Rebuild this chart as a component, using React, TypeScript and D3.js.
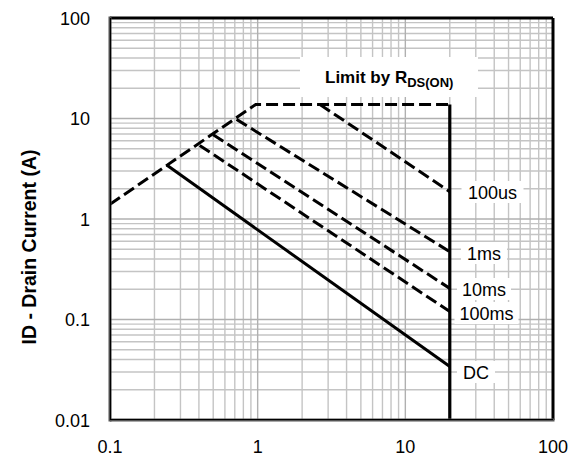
import React from "react";
import * as d3 from "d3";

// ---- data ----
const xTicks = [0.1, 1, 10, 100];
const xTickLabels = ["0.1", "1", "10", "100"];
const yTicks = [0.01, 0.1, 1, 10, 100];
const yTickLabels = ["0.01", "0.1", "1", "10", "100"];

const envelopeX = [0.1, 0.97, 20];
const envelopeY = [1.4, 13.8, 13.8];

const seriesNames = ["100us", "1ms", "10ms", "100ms", "DC"];
const seriesX = [
  [2.64, 20],
  [0.72, 20],
  [0.5, 20],
  [0.405, 20],
  [0.242, 20],
];
const seriesY = [
  [13.8, 1.87],
  [9.8, 0.473],
  [6.9, 0.204],
  [5.4, 0.12],
  [3.44, 0.034],
];
const seriesDashed = [true, true, true, true, false];

const limitX = [20, 20];
const limitY = [13.8, 0.01];

const yTitle = "ID - Drain Current (A)";

// ---- layout ----
const W = 571;
const H = 457;
const L = 110;
const R = 553;
const T = 18;
const B = 420;
const FONT = "Liberation Sans, Arial, sans-serif";
const DASH = "12,5";

export default function App() {
  const x = d3.scaleLog().domain([0.1, 100]).range([L, R]);
  const y = d3.scaleLog().domain([0.01, 100]).range([B, T]);

  const gridX: number[] = [];
  const gridY: number[] = [];
  for (let e = -1; e < 2; e++) {
    for (let m = 2; m <= 9; m++) gridX.push(m * Math.pow(10, e));
  }
  for (let e = -2; e < 2; e++) {
    for (let m = 2; m <= 9; m++) gridY.push(m * Math.pow(10, e));
  }

  const line = d3
    .line<[number, number]>()
    .x((d) => x(d[0]))
    .y((d) => y(d[1]));

  const pts = (xs: number[], ys: number[]) =>
    xs.map((v, i) => [v, ys[i]] as [number, number]);

  const labelPos = [
    { cx: 492.5, cy: 192, w: 62 },
    { cx: 484, cy: 253, w: 46 },
    { cx: 484, cy: 289, w: 54 },
    { cx: 486.5, cy: 313, w: 64 },
    { cx: 476, cy: 372, w: 38 },
  ];

  return (
    <svg
      width={W}
      height={H}
      style={{ position: "absolute", left: 0, top: 0, background: "#fff" }}
    >
      <rect x={0} y={0} width={W} height={H} fill="#fff" />
      {/* grid */}
      <g stroke="#c4c4c4" strokeWidth={1.4}>
        {gridX.map((v, i) => (
          <line key={"gx" + i} x1={x(v)} x2={x(v)} y1={T} y2={B} />
        ))}
        {gridY.map((v, i) => (
          <line key={"gy" + i} x1={L} x2={R} y1={y(v)} y2={y(v)} />
        ))}
        {xTicks.map((v, i) => (
          <line key={"mx" + i} x1={x(v)} x2={x(v)} y1={T} y2={B} stroke="#b0b0b0" />
        ))}
        {yTicks.map((v, i) => (
          <line key={"my" + i} x1={L} x2={R} y1={y(v)} y2={y(v)} stroke="#b0b0b0" />
        ))}
      </g>

      {/* Limit box */}
      <rect x={300} y={57} width={178} height={40} fill="#fff" />
      <text
        x={325}
        y={83}
        fontFamily={FONT}
        fontWeight="bold"
        fontSize={17}
        fill="#000"
      >
        Limit by R
        <tspan fontSize={13} dy={4}>
          DS(ON)
        </tspan>
      </text>

      {/* envelope */}
      <path
        d={line(pts(envelopeX, envelopeY)) || ""}
        fill="none"
        stroke="#000"
        strokeWidth={3}
        strokeDasharray={DASH}
      />
      {seriesNames.map((n, i) => (
        <path
          key={n}
          d={line(pts(seriesX[i], seriesY[i])) || ""}
          fill="none"
          stroke="#000"
          strokeWidth={3}
          strokeDasharray={seriesDashed[i] ? DASH : undefined}
        />
      ))}
      <path
        d={line(pts(limitX, limitY)) || ""}
        fill="none"
        stroke="#000"
        strokeWidth={3.2}
      />

      {/* series labels */}
      {seriesNames.map((n, i) => (
        <g key={"lbl" + n}>
          <rect
            x={labelPos[i].cx - labelPos[i].w / 2}
            y={labelPos[i].cy - 11}
            width={labelPos[i].w}
            height={22}
            fill="#fff"
          />
          <text
            x={labelPos[i].cx}
            y={labelPos[i].cy + 6.5}
            textAnchor="middle"
            fontFamily={FONT}
            fontSize={18}
            fill="#000"
          >
            {n}
          </text>
        </g>
      ))}

      {/* border */}
      <line x1={L} x2={R} y1={T} y2={T} stroke="#000" strokeWidth={3} />
      <line x1={R} x2={R} y1={T} y2={B} stroke="#000" strokeWidth={3} />
      <line x1={L} x2={L} y1={T - 1.5} y2={B + 1.5} stroke="#555" strokeWidth={3} />
      <line x1={L} x2={R + 1.5} y1={B} y2={B} stroke="#555" strokeWidth={3} />
      <line x1={L + 0.5} x2={L + 0.5} y1={T} y2={B} stroke="#000" strokeWidth={1.2} />
      <line x1={L} x2={R} y1={B - 0.5} y2={B - 0.5} stroke="#000" strokeWidth={1.2} />

      {/* tick labels */}
      {yTicks.map((v, i) => (
        <text
          key={"yl" + i}
          x={90}
          y={y(v) + 6.5}
          textAnchor="end"
          fontFamily={FONT}
          fontSize={18}
          fill="#000"
        >
          {yTickLabels[i]}
        </text>
      ))}
      {xTicks.map((v, i) => (
        <text
          key={"xl" + i}
          x={x(v)}
          y={452.5}
          textAnchor="middle"
          fontFamily={FONT}
          fontSize={18}
          fill="#000"
        >
          {xTickLabels[i]}
        </text>
      ))}

      <text
        transform={`translate(35.5, 247) rotate(-90)`}
        textAnchor="middle"
        fontFamily={FONT}
        fontWeight="bold"
        fontSize={19.5}
        fill="#000"
      >
        {yTitle}
      </text>
    </svg>
  );
}
